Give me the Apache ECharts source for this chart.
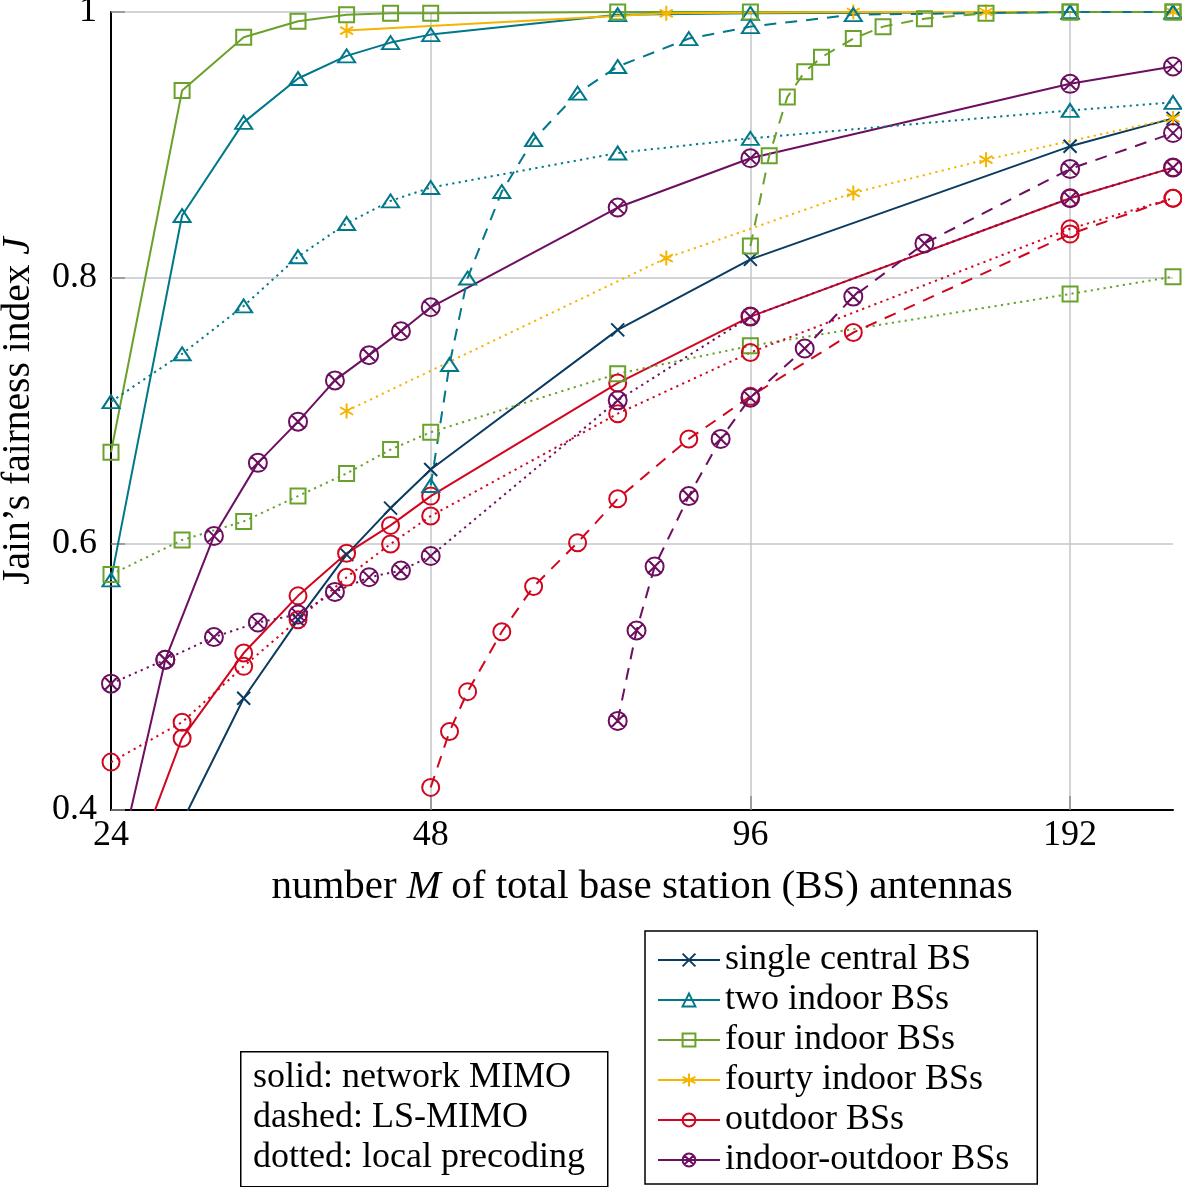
<!DOCTYPE html>
<html>
<head>
<meta charset="utf-8">
<script src="https://cdn.jsdelivr.net/npm/echarts@6/dist/echarts.min.js"></script>
<style>
html,body{margin:0;padding:0;background:#fff;}
#chart{width:1182px;height:1187px;}
</style>
</head>
<body>
<div id="chart"></div>
<script>
// ---- x values (number M of total BS antennas) ----
const M_std = [24, 28, 32, 36, 40, 44, 48, 72, 96, 192, 240];
const M_io = [24, 27, 30, 33, 36, 39, 42, 45, 48, 72, 96, 192, 240];
const M_ls = [48, 50, 52, 56, 60, 66, 72, 84, 96, 120, 192, 240];
const M_lsFour = [96, 100, 104, 108, 112, 120, 128, 140, 160, 192, 240];
const M_lsIO = [72, 75, 78, 84, 90, 96, 108, 120, 140, 192, 240];
const M_fourty = [40, 80, 120, 160, 240];

// ---- Jain's fairness index J ----
const single_net = [0.30, 0.391, 0.484, 0.543, 0.592, 0.627, 0.656, 0.761, 0.814, 0.899, 0.920];

const two_net = [0.573, 0.847, 0.917, 0.950, 0.967, 0.977, 0.983, 0.998, 0.999, 1.0, 1.0];
const two_ls = [0.644, 0.735, 0.800, 0.865, 0.904, 0.939, 0.959, 0.980, 0.989, 0.998, 1.0, 1.0];
const two_loc = [0.707, 0.743, 0.779, 0.816, 0.841, 0.858, 0.868, 0.894, 0.905, 0.926, 0.932];

const four_net = [0.669, 0.941, 0.981, 0.993, 0.998, 0.999, 0.999, 1.0, 1.0, 1.0, 1.0];
const four_ls = [0.824, 0.892, 0.936, 0.955, 0.966, 0.980, 0.989, 0.995, 0.999, 1.0, 1.0];
const four_loc = [0.577, 0.603, 0.617, 0.636, 0.653, 0.671, 0.684, 0.728, 0.749, 0.788, 0.801];

const fourty_net = [0.986, 0.999, 1.0, 1.0, 1.0];
const fourty_loc = [0.700, 0.815, 0.864, 0.889, 0.920];

const out_net = [0.312, 0.454, 0.518, 0.561, 0.593, 0.614, 0.636, 0.721, 0.771, 0.860, 0.883];
const out_ls = [0.417, 0.459, 0.489, 0.534, 0.568, 0.601, 0.634, 0.679, 0.711, 0.759, 0.833, 0.860];
const out_loc = [0.436, 0.466, 0.508, 0.543, 0.575, 0.600, 0.621, 0.698, 0.744, 0.837, 0.860];

const io_net = [0.335, 0.513, 0.606, 0.661, 0.692, 0.723, 0.742, 0.760, 0.778, 0.853, 0.890, 0.946, 0.959];
const io_ls = [0.467, 0.535, 0.583, 0.636, 0.679, 0.710, 0.747, 0.786, 0.826, 0.882, 0.909];
const io_loc = [0.495, 0.513, 0.530, 0.541, 0.547, 0.564, 0.575, 0.580, 0.591, 0.708, 0.771, 0.860, 0.883];

// ---- labels ----
const legendNames = ['single central BS', 'two indoor BSs', 'four indoor BSs', 'fourty indoor BSs', 'outdoor BSs', 'indoor-outdoor BSs'];
const xTicks = [24, 48, 96, 192];
const xGrid = [48, 96, 192];
const styleNote = ['solid: network MIMO', 'dashed: LS-MIMO', 'dotted: local precoding'];

// ---- styling ----
const FONT = 'Liberation Serif';
const C = {
  single: '#0a3b61', two: '#00788a', four: '#6aa12b',
  fourty: '#f5b400', out: '#d1061f', io: '#6c0f60'
};
const SYM = {
  cross: 'path://M0,0L20,20M20,0L0,20',
  tri: 'path://M10,0L20,17.3L0,17.3Z',
  sq: 'path://M0,0L20,0L20,20L0,20Z',
  star: 'path://M10,0L10,20M1.34,5L18.66,15M1.34,15L18.66,5',
  circ: 'path://M20,10A10,10,0,1,1,0,10A10,10,0,1,1,20,10Z',
  circx: 'path://M20,10A10,10,0,1,1,0,10A10,10,0,1,1,20,10ZM2.93,2.93L17.07,17.07M17.07,2.93L2.93,17.07'
};
const SIZE = {cross: 13, tri: [17, 15], sq: 15, star: 15, circ: 17, circx: 18};
const DASH = {solid: 'solid', dashed: [12, 9], dotted: [2.2, 4.3]};

function pairs(M, v) { return M.map((m, i) => [m, v[i]]); }
function mk(name, col, sym, dash, M, v) {
  return {
    name: name, type: 'line', data: pairs(M, v),
    symbol: SYM[sym], symbolSize: SIZE[sym], symbolKeepAspect: true,
    showAllSymbol: true,
    itemStyle: {color: 'rgba(255,255,255,0)', borderColor: col, borderWidth: 2},
    lineStyle: {color: col, width: 2, type: DASH[dash], cap: 'butt'},
    emphasis: {disabled: true},
    animation: false, clip: true
  };
}

const series = [
  mk(legendNames[0], C.single, 'cross', 'solid', M_std, single_net),
  mk(legendNames[1], C.two, 'tri', 'solid', M_std, two_net),
  mk(legendNames[2], C.four, 'sq', 'solid', M_std, four_net),
  mk(legendNames[3], C.fourty, 'star', 'solid', M_fourty, fourty_net),
  mk(legendNames[4], C.out, 'circ', 'solid', M_std, out_net),
  mk(legendNames[5], C.io, 'circx', 'solid', M_io, io_net),
  mk(legendNames[1], C.two, 'tri', 'dashed', M_ls, two_ls),
  mk(legendNames[1], C.two, 'tri', 'dotted', M_std, two_loc),
  mk(legendNames[2], C.four, 'sq', 'dashed', M_lsFour, four_ls),
  mk(legendNames[2], C.four, 'sq', 'dotted', M_std, four_loc),
  mk(legendNames[3], C.fourty, 'star', 'dotted', M_fourty, fourty_loc),
  mk(legendNames[4], C.out, 'circ', 'dashed', M_ls, out_ls),
  mk(legendNames[4], C.out, 'circ', 'dotted', M_std, out_loc),
  mk(legendNames[5], C.io, 'circx', 'dashed', M_lsIO, io_ls),
  mk(legendNames[5], C.io, 'circx', 'dotted', M_io, io_loc)
];

const chart = echarts.init(document.getElementById('chart'), null, {renderer: 'canvas'});
chart.setOption({
  animation: false,
  backgroundColor: '#fff',
  textStyle: {fontFamily: FONT},
  grid: {left: 111, right: 9, top: 12, bottom: 377, containLabel: false, outerBoundsMode: 'none'},
  xAxis: {
    type: 'log', logBase: 2, min: 24, max: 240,
    name: 'number {i|M} of total base station (BS) antennas',
    nameLocation: 'middle', nameGap: 57,
    nameTextStyle: {fontFamily: FONT, fontSize: 41, color: '#000',
      rich: {i: {fontFamily: FONT, fontSize: 41, fontStyle: 'italic', color: '#000'}}},
    axisLine: {show: true, lineStyle: {color: '#000', width: 2}},
    axisTick: {show: true, inside: true, length: 14, customValues: xGrid, lineStyle: {color: '#8a8a8a', width: 1.5}},
    axisLabel: {show: true, customValues: xTicks, margin: 8, fontFamily: FONT, fontSize: 36, color: '#000',
      formatter: function (v) { return String(Math.round(v)); }},
    splitLine: {show: true, lineStyle: {color: '#c3c6ca', width: 1.5}},
    minorTick: {show: false}, minorSplitLine: {show: false}
  },
  yAxis: {
    type: 'value', min: 0.4, max: 1, interval: 0.2,
    name: 'Jain’s fairness index {i|J}',
    nameLocation: 'middle', nameGap: 72,
    nameTextStyle: {fontFamily: FONT, fontSize: 39.5, color: '#000',
      rich: {i: {fontFamily: FONT, fontSize: 39.5, fontStyle: 'italic', color: '#000'}}},
    axisLine: {show: true, lineStyle: {color: '#000', width: 2}},
    axisTick: {show: true, inside: true, length: 14, lineStyle: {color: '#8a8a8a', width: 1.5}},
    axisLabel: {margin: 14, fontFamily: FONT, fontSize: 36, color: '#000',
      formatter: function (v) { return Math.abs(v - 1) < 1e-9 ? '1' : v.toFixed(1); }},
    splitLine: {show: true, lineStyle: {color: '#c3c6ca', width: 1.5}}
  },
  legend: {
    orient: 'vertical', left: 645, top: 931, height: 250,
    data: legendNames,
    itemWidth: 62, itemHeight: 16, itemGap: 4,
    padding: [11, 28, 6, 12],
    backgroundColor: '#fff', borderColor: '#000', borderWidth: 1.5, borderRadius: 0,
    textStyle: {fontFamily: FONT, fontSize: 36, color: '#000'},
    selectedMode: false
  },
  graphic: [
    {type: 'rect', left: 240, top: 1051, z: 10,
      shape: {width: 367, height: 135},
      style: {fill: '#fff', stroke: '#000', lineWidth: 1.5}},
    {type: 'text', left: 253, top: 1058, z: 11,
      style: {text: styleNote.join('\n'), fontFamily: FONT, fontSize: 36, lineHeight: 40, fill: '#000'}}
  ],
  series: series
});
</script>
</body>
</html>
